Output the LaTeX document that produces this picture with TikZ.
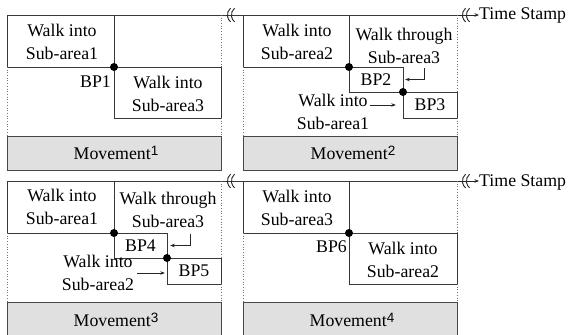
\documentclass[tikz,border=0pt]{standalone}
\usepackage{fontspec}
\setmainfont{Liberation Serif}
\newfontfamily\supfont{Liberation Sans}
\usetikzlibrary{arrows.meta}
\newcommand\msup[1]{\raisebox{4pt}{\supfont\fontsize{13.5}{12}\selectfont #1}}
\tikzset{
  txt/.style={font=\fontsize{17.8}{22.5}\selectfont, align=center, inner sep=0pt},
  bpbox/.style={txt, minimum width=#1, minimum height=25pt},
  ln/.style={draw=black!78, line width=0.8pt},
  brk/.style={draw=black!85, line width=0.9pt},
  dotln/.style={dotted, draw=black!55, line width=0.7pt},
  bpdot/.style={circle, fill=black, inner sep=0pt, minimum size=8pt},
  gbox/.style={fill=black!12, draw=black!72, line width=0.8pt},
  arr/.style={-{Stealth[length=4.5pt,width=3.5pt]}, line width=0.6pt, draw=black!85},
}
\begin{document}
\begin{tikzpicture}[x=1pt,y=-1pt]
\useasboundingbox (0,0) rectangle (569,334);
\clip (0,0) rectangle (569,334);
\fill[white] (0,0) rectangle (569,334);

% ---------- top row time line ----------
\draw[ln] (7,15) -- (457,15);
\draw[brk] (230.6,8.1) arc[start angle=130,end angle=230,radius=9pt];
\draw[brk] (234.6,8.1) arc[start angle=130,end angle=230,radius=9pt];
\draw[brk] (465.6,8.1) arc[start angle=130,end angle=230,radius=9pt];
\draw[brk] (469.6,8.1) arc[start angle=130,end angle=230,radius=9pt];
\node[txt, anchor=base west] (ts1) at (479,20) {Time Stamp};
\coordinate (r1) at (457,15);
\draw[arr] (r1) -- (r1 -| ts1.west);

% ---------- bottom row time line ----------
\draw[ln] (7,181) -- (457,181);
\draw[brk] (230.6,174.1) arc[start angle=130,end angle=230,radius=9pt];
\draw[brk] (234.6,174.1) arc[start angle=130,end angle=230,radius=9pt];
\draw[brk] (465.6,174.1) arc[start angle=130,end angle=230,radius=9pt];
\draw[brk] (469.6,174.1) arc[start angle=130,end angle=230,radius=9pt];
\node[txt, anchor=base west] (ts2) at (479,186) {Time Stamp};
\coordinate (r2) at (457,181);
\draw[arr] (r2) -- (r2 -| ts2.west);

% ---------- panel 1 ----------
\draw[ln] (7,67) -- (7,15);
\draw[ln] (7,67) -- (221,67);
\draw[ln] (114,15) -- (114,118) -- (221,118) -- (221,67);
\draw[dotln] (7,67) -- (7,136);
\draw[dotln] (221,15) -- (221,67);
\draw[dotln] (221,118) -- (221,136);
\draw[gbox] (7,136) rectangle (221,170);
\node[bpdot] (d1) at (114,67) {};
\node[txt] (w1a) at (62,42) {Walk into\\Sub-area1};
\node[txt, anchor=east] (bp1) at (111,82) {BP1};
\node[txt] (w1b) at (168,94) {Walk into\\Sub-area3};
\node[txt] (m1) at (116,153) {Movement\msup{1}};

% ---------- panel 2 ----------
\draw[ln] (243,67) -- (243,15);
\draw[ln] (243,67) -- (403,67) -- (403,118) -- (457,118) -- (457,92) -- (349,92);
\draw[ln] (349,15) -- (349,92);
\draw[dotln] (243,67) -- (243,136);
\draw[dotln] (457,15) -- (457,92);
\draw[dotln] (457,118) -- (457,136);
\draw[gbox] (243,136) rectangle (457,170);
\node[bpdot] (d2) at (349,67) {};
\node[bpdot] (d3) at (403,92) {};
\node[txt] (w2a) at (297,42) {Walk into\\Sub-area2};
\node[txt] (w2b) at (404,46) {Walk through\\Sub-area3};
\node[bpbox=54pt] (bp2) at (376,79.5) {BP2};
\node[bpbox=54pt] (bp3) at (430,105) {BP3};
\node[txt] (w2c) at (333,112) {Walk into\\Sub-area1};
\coordinate (a2) at (424,68);
\draw[arr, shorten >=2pt] (a2) |- (bp2.east);
\coordinate (a3) at (370,105);
\draw[arr, shorten >=7pt] (a3) -- (bp3.west);
\node[txt] (m2) at (353,153) {Movement\msup{2}};

% ---------- panel 3 ----------
\draw[ln] (7,233) -- (7,181);
\draw[ln] (7,233) -- (167,233) -- (167,284) -- (221,284) -- (221,258) -- (114,258);
\draw[ln] (114,181) -- (114,258);
\draw[dotln] (7,233) -- (7,302);
\draw[dotln] (221,181) -- (221,258);
\draw[dotln] (221,284) -- (221,302);
\draw[gbox] (7,302) rectangle (221,340);
\node[bpdot] (d4) at (114,233) {};
\node[bpdot] (d5) at (167,258) {};
\node[txt] (w3a) at (62,207) {Walk into\\Sub-area1};
\node[txt] (w3b) at (168,210) {Walk through\\Sub-area3};
\node[bpbox=53pt] (bp4) at (140.5,245.5) {BP4};
\node[bpbox=54pt] (bp5) at (194,271) {BP5};
\node[txt] (w3c) at (98,273) {Walk into\\Sub-area2};
\coordinate (a4) at (190,234);
\draw[arr, shorten >=3pt] (a4) |- (bp4.east);
\coordinate (a5) at (137,273);
\draw[arr, shorten >=2pt] (a5) -- (a5 -| bp5.west);
\node[txt] (m3) at (116,320) {Movement\msup{3}};

% ---------- panel 4 ----------
\draw[ln] (243,233) -- (243,181);
\draw[ln] (243,233) -- (457,233);
\draw[ln] (349,181) -- (349,284) -- (457,284) -- (457,233);
\draw[dotln] (243,233) -- (243,302);
\draw[dotln] (457,181) -- (457,233);
\draw[dotln] (457,284) -- (457,302);
\draw[gbox] (243,302) rectangle (457,340);
\node[bpdot] (d6) at (349,233) {};
\node[txt] (w4a) at (297,208) {Walk into\\Sub-area3};
\node[txt, anchor=east] (bp6) at (347,247) {BP6};
\node[txt] (w4b) at (403,260) {Walk into\\Sub-area2};
\node[txt] (m4) at (352,320) {Movement\msup{4}};
\end{tikzpicture}
\end{document}
